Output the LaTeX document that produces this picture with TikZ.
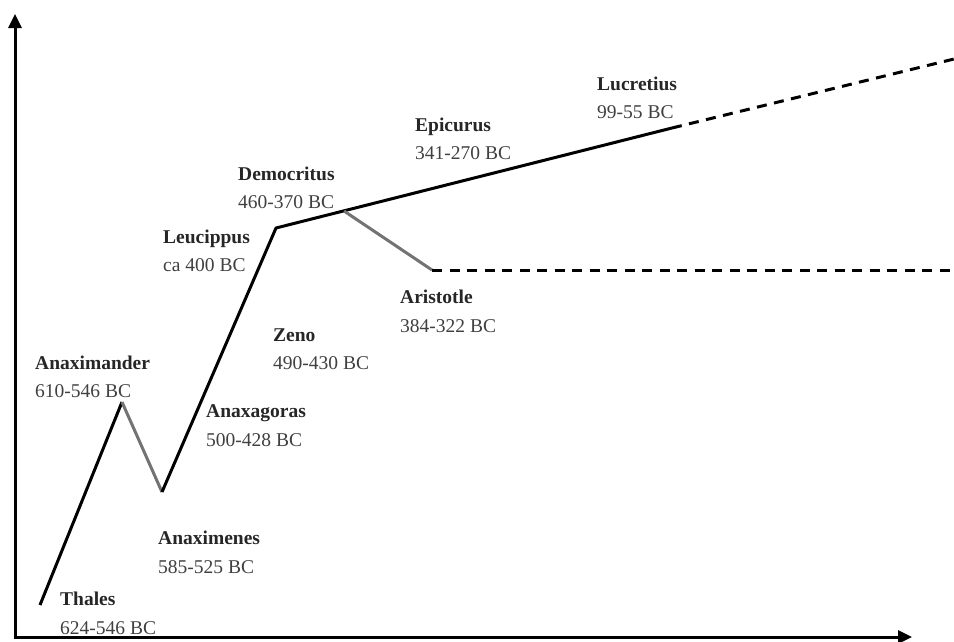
\documentclass[tikz,border=0pt]{standalone}
\usepackage{fontspec}
\setmainfont{Liberation Serif}
\usetikzlibrary{arrows.meta}
\tikzset{
  axis/.style={line width=3pt,-{Triangle[length=14pt,width=13pt]}},
  mainline/.style={line width=3pt,black,line join=round},
  branch/.style={line width=3pt,black!55,line join=round},
  future/.style={line width=3pt,black,dash pattern=on 10pt off 7.5pt},
  nm/.style={anchor=base west,inner sep=0pt,font=\fontsize{19.5}{22}\selectfont\bfseries,text=black!85},
  dt/.style={anchor=base west,inner sep=0pt,font=\fontsize{19.5}{22}\selectfont,text=black!75}
}
\begin{document}
\begin{tikzpicture}[x=1pt,y=-1pt]
\useasboundingbox (0,0) rectangle (954,641);
% axes
\coordinate (o) at (15,637);
\coordinate (ytop) at (15,14);
\coordinate (xend) at (912,637);
\draw[axis] (o) -- (ytop);
\draw[axis] ([xshift=-1.5pt]o) -- (xend);
% timeline vertices
\coordinate (thales) at (40,605);
\coordinate (anaximander) at (122,402);
\coordinate (anaximenes) at (162,492);
\coordinate (leucippus) at (276,228);
\coordinate (democritus) at (344,211);
\coordinate (lucretius) at (672,128);
\coordinate (lucend) at (954,59);
\coordinate (aristotle) at (432,270);
\coordinate (arend) at (954,270);
\draw[mainline] (thales) -- (anaximander);
\draw[branch] (anaximander) -- (anaximenes);
\draw[mainline] (anaximenes) -- (leucippus) -- (lucretius);
\draw[branch] (democritus) -- (aristotle);
\draw[future] (lucretius) -- (lucend);
\draw[future] (aristotle) -- (arend);
% labels
\node[nm] (thalesN) at (60,605) {Thales};
\node[dt] (thalesD) at (60,634) {624-546 BC};
\node[nm] (anaximanderN) at (35,369) {Anaximander};
\node[dt] (anaximanderD) at (35,397) {610-546 BC};
\node[nm] (anaximenesN) at (158,544) {Anaximenes};
\node[dt] (anaximenesD) at (158,573) {585-525 BC};
\node[nm] (anaxagorasN) at (206,417) {Anaxagoras};
\node[dt] (anaxagorasD) at (206,446) {500-428 BC};
\node[nm] (zenoN) at (273,341) {Zeno};
\node[dt] (zenoD) at (273,369) {490-430 BC};
\node[nm] (leucippusN) at (163,243) {Leucippus};
\node[dt] (leucippusD) at (163,271) {ca 400 BC};
\node[nm] (democritusN) at (238,180) {Democritus};
\node[dt] (democritusD) at (238,208) {460-370 BC};
\node[nm] (aristotleN) at (400,303) {Aristotle};
\node[dt] (aristotleD) at (400,332) {384-322 BC};
\node[nm] (epicurusN) at (415,131) {Epicurus};
\node[dt] (epicurusD) at (415,159) {341-270 BC};
\node[nm] (lucretiusN) at (597,90) {Lucretius};
\node[dt] (lucretiusD) at (597,118) {99-55 BC};
\end{tikzpicture}
\end{document}
